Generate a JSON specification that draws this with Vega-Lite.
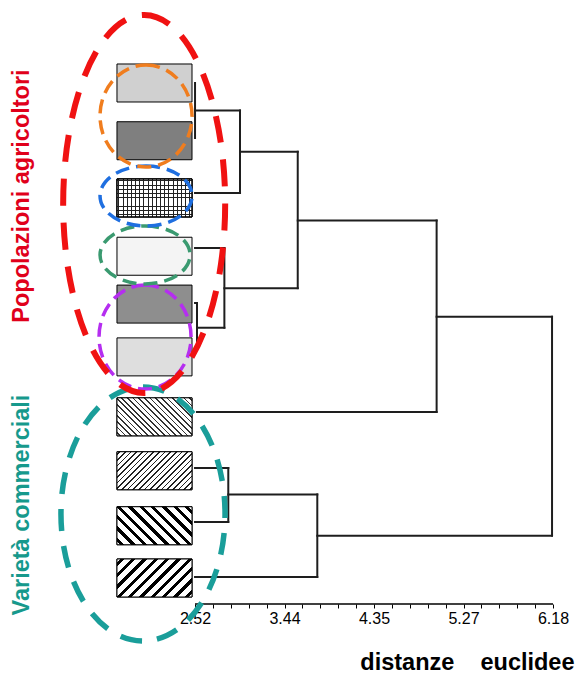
{
  "$schema": "https://vega.github.io/schema/vega-lite/v6.json",
  "width": 576,
  "height": 604,
  "autosize": {"type": "none"},
  "padding": {"left": 0, "top": 0, "right": 0, "bottom": 71},
  "background": "white",
  "config": {"view": {"stroke": null}, "axis": {"labelOverlap": false}},
  "datasets": {
    "leaves": [
      {"id": 1, "pos": 1.0},
      {"id": 2, "pos": 2.05},
      {"id": 3, "pos": 3.09},
      {"id": 4, "pos": 4.15},
      {"id": 5, "pos": 5.02},
      {"id": 6, "pos": 5.98},
      {"id": 7, "pos": 7.07},
      {"id": 8, "pos": 8.05},
      {"id": 9, "pos": 9.05},
      {"id": 10, "pos": 10.0}
    ],
    "segs": [
      {"d1": 2.52, "d2": 2.98, "p1": 3.0, "p2": 3.0},
      {"d1": 2.52, "d2": 2.98, "p1": 1.5, "p2": 1.5},
      {"d1": 2.52, "d2": 2.82, "p1": 4.0, "p2": 4.0},
      {"d1": 2.52, "d2": 2.54, "p1": 5.0, "p2": 5.0},
      {"d1": 2.52, "d2": 2.54, "p1": 5.82, "p2": 5.82},
      {"d1": 2.54, "d2": 2.82, "p1": 5.45, "p2": 5.45},
      {"d1": 2.98, "d2": 3.57, "p1": 2.25, "p2": 2.25},
      {"d1": 2.82, "d2": 3.57, "p1": 4.73, "p2": 4.73},
      {"d1": 3.57, "d2": 4.99, "p1": 3.5, "p2": 3.5},
      {"d1": 2.54, "d2": 4.99, "p1": 6.98, "p2": 6.98},
      {"d1": 4.99, "d2": 6.17, "p1": 5.25, "p2": 5.25},
      {"d1": 2.52, "d2": 2.86, "p1": 8.0, "p2": 8.0},
      {"d1": 2.52, "d2": 2.86, "p1": 8.98, "p2": 8.98},
      {"d1": 2.86, "d2": 3.77, "p1": 8.48, "p2": 8.48},
      {"d1": 2.52, "d2": 3.77, "p1": 9.98, "p2": 9.98},
      {"d1": 3.77, "d2": 6.17, "p1": 9.23, "p2": 9.23},
      {"d1": 2.52, "d2": 2.52, "p1": 1.0, "p2": 2.0},
      {"d1": 2.98, "d2": 2.98, "p1": 1.5, "p2": 3.0},
      {"d1": 2.54, "d2": 2.54, "p1": 5.0, "p2": 5.82},
      {"d1": 2.82, "d2": 2.82, "p1": 4.0, "p2": 5.45},
      {"d1": 3.57, "d2": 3.57, "p1": 2.25, "p2": 4.73},
      {"d1": 4.99, "d2": 4.99, "p1": 3.5, "p2": 6.98},
      {"d1": 2.86, "d2": 2.86, "p1": 8.0, "p2": 8.98},
      {"d1": 3.77, "d2": 3.77, "p1": 8.48, "p2": 9.98},
      {"d1": 6.17, "d2": 6.17, "p1": 5.25, "p2": 9.23}
    ]
  },
  "layer": [
    {
      "data": {"name": "leaves"},
      "mark": {"type": "rect", "height": 38, "stroke": "#000", "strokeWidth": 1},
      "encoding": {
        "x": {"datum": 1.722, "type": "quantitative", "scale": {"domain": [0.526, 6.415], "nice": false, "zero": false},
          "axis": {
            "values": [2.52, 2.703, 2.886, 3.069, 3.252, 3.435, 3.618, 3.801, 3.984, 4.167, 4.35, 4.533, 4.716, 4.899, 5.082, 5.265, 5.448, 5.631, 5.814, 5.997, 6.18],
            "tickCount": 100,
            "labelExpr": "abs(datum.value - 2.52) < 0.01 ? '2.52' : abs(datum.value - 3.435) < 0.01 ? '3.44' : abs(datum.value - 4.35) < 0.01 ? '4.35' : abs(datum.value - 5.265) < 0.01 ? '5.27' : abs(datum.value - 6.18) < 0.01 ? '6.18' : ''",
            "domain": false, "grid": false, "ticks": true, "tickSize": 4, "tickColor": "#000", "tickWidth": 1,
            "labelFont": "Liberation Sans", "labelFontSize": 16, "labelColor": "#000", "labelPadding": 2, "labelDx": 3,
            "labelFlush": false, "labelOverlap": false, "labelBound": false, "labelSeparation": 0,
            "title": "distanze\u00a0\u00a0\u00a0 euclidee", "titleFont": "Liberation Sans", "titleFontSize": 23.5, "titleFontWeight": "bold", "titleColor": "#000",
            "titleX": 574, "titleY": 65, "titleAlign": "right", "titleBaseline": "alphabetic"
          }},
        "x2": {"datum": 2.489},
        "y": {"field": "pos", "type": "quantitative", "scale": {"domain": [-0.509, 10.473], "nice": false, "zero": false, "reverse": true}, "axis": null},
        "fill": {"field": "id", "type": "nominal", "scale": {"domain": [1, 2, 3, 4, 5, 6, 7, 8, 9, 10], "range": ["#d0d0d0", "#7f7f7f", "#ffffff", "#f4f4f4", "#8e8e8e", "#dedede", "#ffffff", "#ffffff", "#ffffff", "#ffffff"]}, "legend": null}
      }
    },
    {
      "data": {"name": "leaves"},
      "transform": [{"filter": "datum.id == 3"}],
      "mark": {"type": "rect", "height": 38, "stroke": "#000", "strokeWidth": 1,
        "fill": {"gradient": "linear", "x1": 0, "y1": 0, "x2": 1, "y2": 0, "stops": [
          {"offset": 0, "color": "#fff"},
          {"offset": 0.02, "color": "#fff"}, {"offset": 0.02, "color": "#222"}, {"offset": 0.033, "color": "#222"}, {"offset": 0.033, "color": "#fff"},
          {"offset": 0.0756, "color": "#fff"}, {"offset": 0.0756, "color": "#222"}, {"offset": 0.0886, "color": "#222"}, {"offset": 0.0886, "color": "#fff"},
          {"offset": 0.1311, "color": "#fff"}, {"offset": 0.1311, "color": "#222"}, {"offset": 0.1441, "color": "#222"}, {"offset": 0.1441, "color": "#fff"},
          {"offset": 0.1867, "color": "#fff"}, {"offset": 0.1867, "color": "#222"}, {"offset": 0.1997, "color": "#222"}, {"offset": 0.1997, "color": "#fff"},
          {"offset": 0.2422, "color": "#fff"}, {"offset": 0.2422, "color": "#222"}, {"offset": 0.2552, "color": "#222"}, {"offset": 0.2552, "color": "#fff"},
          {"offset": 0.2978, "color": "#fff"}, {"offset": 0.2978, "color": "#222"}, {"offset": 0.3108, "color": "#222"}, {"offset": 0.3108, "color": "#fff"},
          {"offset": 0.3533, "color": "#fff"}, {"offset": 0.3533, "color": "#222"}, {"offset": 0.3663, "color": "#222"}, {"offset": 0.3663, "color": "#fff"},
          {"offset": 0.4089, "color": "#fff"}, {"offset": 0.4089, "color": "#222"}, {"offset": 0.4219, "color": "#222"}, {"offset": 0.4219, "color": "#fff"},
          {"offset": 0.4644, "color": "#fff"}, {"offset": 0.4644, "color": "#222"}, {"offset": 0.4774, "color": "#222"}, {"offset": 0.4774, "color": "#fff"},
          {"offset": 0.52, "color": "#fff"}, {"offset": 0.52, "color": "#222"}, {"offset": 0.533, "color": "#222"}, {"offset": 0.533, "color": "#fff"},
          {"offset": 0.5756, "color": "#fff"}, {"offset": 0.5756, "color": "#222"}, {"offset": 0.5886, "color": "#222"}, {"offset": 0.5886, "color": "#fff"},
          {"offset": 0.6311, "color": "#fff"}, {"offset": 0.6311, "color": "#222"}, {"offset": 0.6441, "color": "#222"}, {"offset": 0.6441, "color": "#fff"},
          {"offset": 0.6867, "color": "#fff"}, {"offset": 0.6867, "color": "#222"}, {"offset": 0.6997, "color": "#222"}, {"offset": 0.6997, "color": "#fff"},
          {"offset": 0.7422, "color": "#fff"}, {"offset": 0.7422, "color": "#222"}, {"offset": 0.7552, "color": "#222"}, {"offset": 0.7552, "color": "#fff"},
          {"offset": 0.7978, "color": "#fff"}, {"offset": 0.7978, "color": "#222"}, {"offset": 0.8108, "color": "#222"}, {"offset": 0.8108, "color": "#fff"},
          {"offset": 0.8533, "color": "#fff"}, {"offset": 0.8533, "color": "#222"}, {"offset": 0.8663, "color": "#222"}, {"offset": 0.8663, "color": "#fff"},
          {"offset": 0.9089, "color": "#fff"}, {"offset": 0.9089, "color": "#222"}, {"offset": 0.9219, "color": "#222"}, {"offset": 0.9219, "color": "#fff"},
          {"offset": 0.9644, "color": "#fff"}, {"offset": 0.9644, "color": "#222"}, {"offset": 0.9774, "color": "#222"}, {"offset": 0.9774, "color": "#fff"},
          {"offset": 1, "color": "#fff"}
        ]}},
      "encoding": {
        "x": {"datum": 1.722, "type": "quantitative", "scale": {"domain": [0.526, 6.415], "nice": false, "zero": false}},
        "x2": {"datum": 2.489},
        "y": {"field": "pos", "type": "quantitative", "scale": {"domain": [-0.509, 10.473], "nice": false, "zero": false, "reverse": true}, "axis": null}
      }
    },
    {
      "data": {"name": "leaves"},
      "transform": [{"filter": "datum.id == 3"}],
      "mark": {"type": "rect", "height": 38, "stroke": "#000", "strokeWidth": 1,
        "fill": {"gradient": "linear", "x1": 0, "y1": 0, "x2": 0, "y2": 1, "stops": [
          {"offset": 0, "color": "rgba(0,0,0,0)"},
          {"offset": 0.04, "color": "rgba(0,0,0,0)"}, {"offset": 0.04, "color": "#222"}, {"offset": 0.064, "color": "#222"}, {"offset": 0.064, "color": "rgba(0,0,0,0)"},
          {"offset": 0.1511, "color": "rgba(0,0,0,0)"}, {"offset": 0.1511, "color": "#222"}, {"offset": 0.1751, "color": "#222"}, {"offset": 0.1751, "color": "rgba(0,0,0,0)"},
          {"offset": 0.2622, "color": "rgba(0,0,0,0)"}, {"offset": 0.2622, "color": "#222"}, {"offset": 0.2862, "color": "#222"}, {"offset": 0.2862, "color": "rgba(0,0,0,0)"},
          {"offset": 0.3733, "color": "rgba(0,0,0,0)"}, {"offset": 0.3733, "color": "#222"}, {"offset": 0.3973, "color": "#222"}, {"offset": 0.3973, "color": "rgba(0,0,0,0)"},
          {"offset": 0.4844, "color": "rgba(0,0,0,0)"}, {"offset": 0.4844, "color": "#222"}, {"offset": 0.5084, "color": "#222"}, {"offset": 0.5084, "color": "rgba(0,0,0,0)"},
          {"offset": 0.5956, "color": "rgba(0,0,0,0)"}, {"offset": 0.5956, "color": "#222"}, {"offset": 0.6196, "color": "#222"}, {"offset": 0.6196, "color": "rgba(0,0,0,0)"},
          {"offset": 0.7067, "color": "rgba(0,0,0,0)"}, {"offset": 0.7067, "color": "#222"}, {"offset": 0.7307, "color": "#222"}, {"offset": 0.7307, "color": "rgba(0,0,0,0)"},
          {"offset": 0.8178, "color": "rgba(0,0,0,0)"}, {"offset": 0.8178, "color": "#222"}, {"offset": 0.8418, "color": "#222"}, {"offset": 0.8418, "color": "rgba(0,0,0,0)"},
          {"offset": 0.9289, "color": "rgba(0,0,0,0)"}, {"offset": 0.9289, "color": "#222"}, {"offset": 0.9529, "color": "#222"}, {"offset": 0.9529, "color": "rgba(0,0,0,0)"},
          {"offset": 1, "color": "rgba(0,0,0,0)"}
        ]}},
      "encoding": {
        "x": {"datum": 1.722, "type": "quantitative", "scale": {"domain": [0.526, 6.415], "nice": false, "zero": false}},
        "x2": {"datum": 2.489},
        "y": {"field": "pos", "type": "quantitative", "scale": {"domain": [-0.509, 10.473], "nice": false, "zero": false, "reverse": true}, "axis": null}
      }
    },
    {
      "data": {"name": "leaves"},
      "transform": [{"filter": "datum.id == 7"}],
      "mark": {"type": "rect", "height": 38, "stroke": "#000", "strokeWidth": 1,
        "fill": {"gradient": "linear", "x1": 0, "y1": 1, "x2": 1.199, "y2": 0.3925, "stops": [
          {"offset": 0, "color": "#fff"},
          {"offset": 0.02, "color": "#fff"}, {"offset": 0.02, "color": "#333"}, {"offset": 0.035, "color": "#333"}, {"offset": 0.035, "color": "#fff"},
          {"offset": 0.07, "color": "#fff"}, {"offset": 0.07, "color": "#333"}, {"offset": 0.085, "color": "#333"}, {"offset": 0.085, "color": "#fff"},
          {"offset": 0.12, "color": "#fff"}, {"offset": 0.12, "color": "#333"}, {"offset": 0.135, "color": "#333"}, {"offset": 0.135, "color": "#fff"},
          {"offset": 0.17, "color": "#fff"}, {"offset": 0.17, "color": "#333"}, {"offset": 0.185, "color": "#333"}, {"offset": 0.185, "color": "#fff"},
          {"offset": 0.22, "color": "#fff"}, {"offset": 0.22, "color": "#333"}, {"offset": 0.235, "color": "#333"}, {"offset": 0.235, "color": "#fff"},
          {"offset": 0.27, "color": "#fff"}, {"offset": 0.27, "color": "#333"}, {"offset": 0.285, "color": "#333"}, {"offset": 0.285, "color": "#fff"},
          {"offset": 0.32, "color": "#fff"}, {"offset": 0.32, "color": "#333"}, {"offset": 0.335, "color": "#333"}, {"offset": 0.335, "color": "#fff"},
          {"offset": 0.37, "color": "#fff"}, {"offset": 0.37, "color": "#333"}, {"offset": 0.385, "color": "#333"}, {"offset": 0.385, "color": "#fff"},
          {"offset": 0.42, "color": "#fff"}, {"offset": 0.42, "color": "#333"}, {"offset": 0.435, "color": "#333"}, {"offset": 0.435, "color": "#fff"},
          {"offset": 0.47, "color": "#fff"}, {"offset": 0.47, "color": "#333"}, {"offset": 0.485, "color": "#333"}, {"offset": 0.485, "color": "#fff"},
          {"offset": 0.52, "color": "#fff"}, {"offset": 0.52, "color": "#333"}, {"offset": 0.535, "color": "#333"}, {"offset": 0.535, "color": "#fff"},
          {"offset": 0.57, "color": "#fff"}, {"offset": 0.57, "color": "#333"}, {"offset": 0.585, "color": "#333"}, {"offset": 0.585, "color": "#fff"},
          {"offset": 0.62, "color": "#fff"}, {"offset": 0.62, "color": "#333"}, {"offset": 0.635, "color": "#333"}, {"offset": 0.635, "color": "#fff"},
          {"offset": 0.67, "color": "#fff"}, {"offset": 0.67, "color": "#333"}, {"offset": 0.685, "color": "#333"}, {"offset": 0.685, "color": "#fff"},
          {"offset": 0.72, "color": "#fff"}, {"offset": 0.72, "color": "#333"}, {"offset": 0.735, "color": "#333"}, {"offset": 0.735, "color": "#fff"},
          {"offset": 0.77, "color": "#fff"}, {"offset": 0.77, "color": "#333"}, {"offset": 0.785, "color": "#333"}, {"offset": 0.785, "color": "#fff"},
          {"offset": 0.82, "color": "#fff"}, {"offset": 0.82, "color": "#333"}, {"offset": 0.835, "color": "#333"}, {"offset": 0.835, "color": "#fff"},
          {"offset": 0.87, "color": "#fff"}, {"offset": 0.87, "color": "#333"}, {"offset": 0.885, "color": "#333"}, {"offset": 0.885, "color": "#fff"},
          {"offset": 0.92, "color": "#fff"}, {"offset": 0.92, "color": "#333"}, {"offset": 0.935, "color": "#333"}, {"offset": 0.935, "color": "#fff"},
          {"offset": 0.97, "color": "#fff"}, {"offset": 0.97, "color": "#333"}, {"offset": 0.985, "color": "#333"}, {"offset": 0.985, "color": "#fff"},
          {"offset": 1, "color": "#fff"}
        ]}},
      "encoding": {
        "x": {"datum": 1.722, "type": "quantitative", "scale": {"domain": [0.526, 6.415], "nice": false, "zero": false}},
        "x2": {"datum": 2.489},
        "y": {"field": "pos", "type": "quantitative", "scale": {"domain": [-0.509, 10.473], "nice": false, "zero": false, "reverse": true}, "axis": null}
      }
    },
    {
      "data": {"name": "leaves"},
      "transform": [{"filter": "datum.id == 8"}],
      "mark": {"type": "rect", "height": 38, "stroke": "#000", "strokeWidth": 1,
        "fill": {"gradient": "linear", "x1": 0, "y1": 0, "x2": 1.199, "y2": 0.6075, "stops": [
          {"offset": 0, "color": "#fff"},
          {"offset": 0.02, "color": "#fff"}, {"offset": 0.02, "color": "#222"}, {"offset": 0.035, "color": "#222"}, {"offset": 0.035, "color": "#fff"},
          {"offset": 0.07, "color": "#fff"}, {"offset": 0.07, "color": "#222"}, {"offset": 0.085, "color": "#222"}, {"offset": 0.085, "color": "#fff"},
          {"offset": 0.12, "color": "#fff"}, {"offset": 0.12, "color": "#222"}, {"offset": 0.135, "color": "#222"}, {"offset": 0.135, "color": "#fff"},
          {"offset": 0.17, "color": "#fff"}, {"offset": 0.17, "color": "#222"}, {"offset": 0.185, "color": "#222"}, {"offset": 0.185, "color": "#fff"},
          {"offset": 0.22, "color": "#fff"}, {"offset": 0.22, "color": "#222"}, {"offset": 0.235, "color": "#222"}, {"offset": 0.235, "color": "#fff"},
          {"offset": 0.27, "color": "#fff"}, {"offset": 0.27, "color": "#222"}, {"offset": 0.285, "color": "#222"}, {"offset": 0.285, "color": "#fff"},
          {"offset": 0.32, "color": "#fff"}, {"offset": 0.32, "color": "#222"}, {"offset": 0.335, "color": "#222"}, {"offset": 0.335, "color": "#fff"},
          {"offset": 0.37, "color": "#fff"}, {"offset": 0.37, "color": "#222"}, {"offset": 0.385, "color": "#222"}, {"offset": 0.385, "color": "#fff"},
          {"offset": 0.42, "color": "#fff"}, {"offset": 0.42, "color": "#222"}, {"offset": 0.435, "color": "#222"}, {"offset": 0.435, "color": "#fff"},
          {"offset": 0.47, "color": "#fff"}, {"offset": 0.47, "color": "#222"}, {"offset": 0.485, "color": "#222"}, {"offset": 0.485, "color": "#fff"},
          {"offset": 0.52, "color": "#fff"}, {"offset": 0.52, "color": "#222"}, {"offset": 0.535, "color": "#222"}, {"offset": 0.535, "color": "#fff"},
          {"offset": 0.57, "color": "#fff"}, {"offset": 0.57, "color": "#222"}, {"offset": 0.585, "color": "#222"}, {"offset": 0.585, "color": "#fff"},
          {"offset": 0.62, "color": "#fff"}, {"offset": 0.62, "color": "#222"}, {"offset": 0.635, "color": "#222"}, {"offset": 0.635, "color": "#fff"},
          {"offset": 0.67, "color": "#fff"}, {"offset": 0.67, "color": "#222"}, {"offset": 0.685, "color": "#222"}, {"offset": 0.685, "color": "#fff"},
          {"offset": 0.72, "color": "#fff"}, {"offset": 0.72, "color": "#222"}, {"offset": 0.735, "color": "#222"}, {"offset": 0.735, "color": "#fff"},
          {"offset": 0.77, "color": "#fff"}, {"offset": 0.77, "color": "#222"}, {"offset": 0.785, "color": "#222"}, {"offset": 0.785, "color": "#fff"},
          {"offset": 0.82, "color": "#fff"}, {"offset": 0.82, "color": "#222"}, {"offset": 0.835, "color": "#222"}, {"offset": 0.835, "color": "#fff"},
          {"offset": 0.87, "color": "#fff"}, {"offset": 0.87, "color": "#222"}, {"offset": 0.885, "color": "#222"}, {"offset": 0.885, "color": "#fff"},
          {"offset": 0.92, "color": "#fff"}, {"offset": 0.92, "color": "#222"}, {"offset": 0.935, "color": "#222"}, {"offset": 0.935, "color": "#fff"},
          {"offset": 0.97, "color": "#fff"}, {"offset": 0.97, "color": "#222"}, {"offset": 0.985, "color": "#222"}, {"offset": 0.985, "color": "#fff"},
          {"offset": 1, "color": "#fff"}
        ]}},
      "encoding": {
        "x": {"datum": 1.722, "type": "quantitative", "scale": {"domain": [0.526, 6.415], "nice": false, "zero": false}},
        "x2": {"datum": 2.489},
        "y": {"field": "pos", "type": "quantitative", "scale": {"domain": [-0.509, 10.473], "nice": false, "zero": false, "reverse": true}, "axis": null}
      }
    },
    {
      "data": {"name": "leaves"},
      "transform": [{"filter": "datum.id == 9"}],
      "mark": {"type": "rect", "height": 38, "stroke": "#000", "strokeWidth": 1,
        "fill": {"gradient": "linear", "x1": 0, "y1": 1, "x2": 1.199, "y2": 0.3925, "stops": [
          {"offset": 0, "color": "#fff"},
          {"offset": 0.03, "color": "#fff"}, {"offset": 0.03, "color": "#000"}, {"offset": 0.068, "color": "#000"}, {"offset": 0.068, "color": "#fff"},
          {"offset": 0.13, "color": "#fff"}, {"offset": 0.13, "color": "#000"}, {"offset": 0.168, "color": "#000"}, {"offset": 0.168, "color": "#fff"},
          {"offset": 0.23, "color": "#fff"}, {"offset": 0.23, "color": "#000"}, {"offset": 0.268, "color": "#000"}, {"offset": 0.268, "color": "#fff"},
          {"offset": 0.33, "color": "#fff"}, {"offset": 0.33, "color": "#000"}, {"offset": 0.368, "color": "#000"}, {"offset": 0.368, "color": "#fff"},
          {"offset": 0.43, "color": "#fff"}, {"offset": 0.43, "color": "#000"}, {"offset": 0.468, "color": "#000"}, {"offset": 0.468, "color": "#fff"},
          {"offset": 0.53, "color": "#fff"}, {"offset": 0.53, "color": "#000"}, {"offset": 0.568, "color": "#000"}, {"offset": 0.568, "color": "#fff"},
          {"offset": 0.63, "color": "#fff"}, {"offset": 0.63, "color": "#000"}, {"offset": 0.668, "color": "#000"}, {"offset": 0.668, "color": "#fff"},
          {"offset": 0.73, "color": "#fff"}, {"offset": 0.73, "color": "#000"}, {"offset": 0.768, "color": "#000"}, {"offset": 0.768, "color": "#fff"},
          {"offset": 0.83, "color": "#fff"}, {"offset": 0.83, "color": "#000"}, {"offset": 0.868, "color": "#000"}, {"offset": 0.868, "color": "#fff"},
          {"offset": 0.93, "color": "#fff"}, {"offset": 0.93, "color": "#000"}, {"offset": 0.968, "color": "#000"}, {"offset": 0.968, "color": "#fff"},
          {"offset": 1, "color": "#fff"}
        ]}},
      "encoding": {
        "x": {"datum": 1.722, "type": "quantitative", "scale": {"domain": [0.526, 6.415], "nice": false, "zero": false}},
        "x2": {"datum": 2.489},
        "y": {"field": "pos", "type": "quantitative", "scale": {"domain": [-0.509, 10.473], "nice": false, "zero": false, "reverse": true}, "axis": null}
      }
    },
    {
      "data": {"name": "leaves"},
      "transform": [{"filter": "datum.id == 10"}],
      "mark": {"type": "rect", "height": 38, "stroke": "#000", "strokeWidth": 1,
        "fill": {"gradient": "linear", "x1": 0, "y1": 0, "x2": 1.199, "y2": 0.6075, "stops": [
          {"offset": 0, "color": "#fff"},
          {"offset": 0.03, "color": "#fff"}, {"offset": 0.03, "color": "#000"}, {"offset": 0.068, "color": "#000"}, {"offset": 0.068, "color": "#fff"},
          {"offset": 0.13, "color": "#fff"}, {"offset": 0.13, "color": "#000"}, {"offset": 0.168, "color": "#000"}, {"offset": 0.168, "color": "#fff"},
          {"offset": 0.23, "color": "#fff"}, {"offset": 0.23, "color": "#000"}, {"offset": 0.268, "color": "#000"}, {"offset": 0.268, "color": "#fff"},
          {"offset": 0.33, "color": "#fff"}, {"offset": 0.33, "color": "#000"}, {"offset": 0.368, "color": "#000"}, {"offset": 0.368, "color": "#fff"},
          {"offset": 0.43, "color": "#fff"}, {"offset": 0.43, "color": "#000"}, {"offset": 0.468, "color": "#000"}, {"offset": 0.468, "color": "#fff"},
          {"offset": 0.53, "color": "#fff"}, {"offset": 0.53, "color": "#000"}, {"offset": 0.568, "color": "#000"}, {"offset": 0.568, "color": "#fff"},
          {"offset": 0.63, "color": "#fff"}, {"offset": 0.63, "color": "#000"}, {"offset": 0.668, "color": "#000"}, {"offset": 0.668, "color": "#fff"},
          {"offset": 0.73, "color": "#fff"}, {"offset": 0.73, "color": "#000"}, {"offset": 0.768, "color": "#000"}, {"offset": 0.768, "color": "#fff"},
          {"offset": 0.83, "color": "#fff"}, {"offset": 0.83, "color": "#000"}, {"offset": 0.868, "color": "#000"}, {"offset": 0.868, "color": "#fff"},
          {"offset": 0.93, "color": "#fff"}, {"offset": 0.93, "color": "#000"}, {"offset": 0.968, "color": "#000"}, {"offset": 0.968, "color": "#fff"},
          {"offset": 1, "color": "#fff"}
        ]}},
      "encoding": {
        "x": {"datum": 1.722, "type": "quantitative", "scale": {"domain": [0.526, 6.415], "nice": false, "zero": false}},
        "x2": {"datum": 2.489},
        "y": {"field": "pos", "type": "quantitative", "scale": {"domain": [-0.509, 10.473], "nice": false, "zero": false, "reverse": true}, "axis": null}
      }
    },
    {
      "data": {"name": "segs"},
      "mark": {"type": "rule", "stroke": "#1e1e1e", "strokeWidth": 2, "strokeCap": "square"},
      "encoding": {
        "x": {"field": "d1", "type": "quantitative", "scale": {"domain": [0.526, 6.415], "nice": false, "zero": false}},
        "x2": {"field": "d2"},
        "y": {"field": "p1", "type": "quantitative", "scale": {"domain": [-0.509, 10.473], "nice": false, "zero": false, "reverse": true}, "axis": null},
        "y2": {"field": "p2"}
      }
    },
    {
      "data": {"values": [{}]},
      "mark": {"type": "rule", "stroke": "#000", "strokeWidth": 1.3},
      "encoding": {
        "x": {"datum": 2.52, "type": "quantitative", "scale": {"domain": [0.526, 6.415], "nice": false, "zero": false}},
        "x2": {"datum": 6.18},
        "y": {"value": "height"}
      }
    },
    {
      "data": {"values": [{}]},
      "mark": {"type": "point", "shape": "M0,-1 C0.3568,-1 0.646,-0.5523 0.646,0 C0.646,0.5523 0.3568,1 0,1 C-0.3568,1 -0.646,0.5523 -0.646,0 C-0.646,-0.5523 -0.3568,-1 0,-1 Z",
        "size": 64516, "filled": false, "color": "#1a9e9a", "stroke": "#1a9e9a", "strokeWidth": 5.5, "strokeDash": [22, 15], "opacity": 1},
      "encoding": {
        "x": {"datum": 1.988, "type": "quantitative", "scale": {"domain": [0.526, 6.415], "nice": false, "zero": false}},
        "y": {"datum": 8.836, "type": "quantitative", "scale": {"domain": [-0.509, 10.473], "nice": false, "zero": false, "reverse": true}, "axis": null}
      }
    },
    {
      "data": {"values": [{}]},
      "mark": {"type": "point", "shape": "M0,-1 C0.4888,-1 0.885,-0.5523 0.885,0 C0.885,0.5523 0.4888,1 0,1 C-0.4888,1 -0.885,0.5523 -0.885,0 C-0.885,-0.5523 -0.4888,-1 0,-1 Z",
        "size": 10816, "filled": false, "color": "#b52ef0", "stroke": "#b52ef0", "strokeWidth": 3.5, "strokeDash": [14, 7], "opacity": 1},
      "encoding": {
        "x": {"datum": 2.009, "type": "quantitative", "scale": {"domain": [0.526, 6.415], "nice": false, "zero": false}},
        "y": {"datum": 5.618, "type": "quantitative", "scale": {"domain": [-0.509, 10.473], "nice": false, "zero": false, "reverse": true}, "axis": null}
      }
    },
    {
      "data": {"values": [{}]},
      "mark": {"type": "point", "shape": "M0,-0.644 C0.5523,-0.644 1,-0.3557 1,0 C1,0.3557 0.5523,0.644 0,0.644 C-0.5523,0.644 -1,0.3557 -1,0 C-1,-0.3557 -0.5523,-0.644 0,-0.644 Z",
        "size": 8100, "filled": false, "color": "#3a9a70", "stroke": "#3a9a70", "strokeWidth": 3.5, "strokeDash": [14, 7], "opacity": 1},
      "encoding": {
        "x": {"datum": 2.009, "type": "quantitative", "scale": {"domain": [0.526, 6.415], "nice": false, "zero": false}},
        "y": {"datum": 4.127, "type": "quantitative", "scale": {"domain": [-0.509, 10.473], "nice": false, "zero": false, "reverse": true}, "axis": null}
      }
    },
    {
      "data": {"values": [{}]},
      "mark": {"type": "point", "shape": "M0,-0.652 C0.5523,-0.652 1,-0.3601 1,0 C1,0.3601 0.5523,0.652 0,0.652 C-0.5523,0.652 -1,0.3601 -1,0 C-1,-0.3601 -0.5523,-0.652 0,-0.652 Z",
        "size": 8464, "filled": false, "color": "#1f6fe0", "stroke": "#1f6fe0", "strokeWidth": 3.5, "strokeDash": [14, 7], "opacity": 1},
      "encoding": {
        "x": {"datum": 2.019, "type": "quantitative", "scale": {"domain": [0.526, 6.415], "nice": false, "zero": false}},
        "y": {"datum": 3.055, "type": "quantitative", "scale": {"domain": [-0.509, 10.473], "nice": false, "zero": false, "reverse": true}, "axis": null}
      }
    },
    {
      "data": {"values": [{}]},
      "mark": {"type": "point", "shape": "M0,-1 C0.4982,-1 0.902,-0.5523 0.902,0 C0.902,0.5523 0.4982,1 0,1 C-0.4982,1 -0.902,0.5523 -0.902,0 C-0.902,-0.5523 -0.4982,-1 0,-1 Z",
        "size": 10404, "filled": false, "color": "#f07d1e", "stroke": "#f07d1e", "strokeWidth": 3.5, "strokeDash": [14, 7], "opacity": 1},
      "encoding": {
        "x": {"datum": 2.019, "type": "quantitative", "scale": {"domain": [0.526, 6.415], "nice": false, "zero": false}},
        "y": {"datum": 1.6, "type": "quantitative", "scale": {"domain": [-0.509, 10.473], "nice": false, "zero": false, "reverse": true}, "axis": null}
      }
    },
    {
      "data": {"values": [{}]},
      "mark": {"type": "point", "shape": "M0,-1 C0.2367,-1 0.4286,-0.5523 0.4286,0 C0.4286,0.5523 0.2367,1 0,1 C-0.2367,1 -0.4286,0.5523 -0.4286,0 C-0.4286,-0.5523 -0.2367,-1 0,-1 Z",
        "size": 142884, "filled": false, "color": "#f01212", "stroke": "#f01212", "strokeWidth": 6, "strokeDash": [27, 17], "opacity": 1},
      "encoding": {
        "x": {"datum": 2.0, "type": "quantitative", "scale": {"domain": [0.526, 6.415], "nice": false, "zero": false}},
        "y": {"datum": 3.2, "type": "quantitative", "scale": {"domain": [-0.509, 10.473], "nice": false, "zero": false, "reverse": true}, "axis": null}
      }
    },
    {
      "data": {"values": [{"t": "Popolazioni agricoltori"}]},
      "mark": {"type": "text", "angle": 270, "font": "Liberation Sans", "fontSize": 23.5, "fontWeight": "bold", "color": "#e0001b", "align": "center", "baseline": "middle"},
      "encoding": {
        "text": {"field": "t"},
        "x": {"datum": 0.751, "type": "quantitative", "scale": {"domain": [0.526, 6.415], "nice": false, "zero": false}},
        "y": {"datum": 3.055, "type": "quantitative", "scale": {"domain": [-0.509, 10.473], "nice": false, "zero": false, "reverse": true}, "axis": null}
      }
    },
    {
      "data": {"values": [{"t": "Varietà commerciali"}]},
      "mark": {"type": "text", "angle": 270, "font": "Liberation Sans", "fontSize": 23.5, "fontWeight": "bold", "color": "#16998c", "align": "center", "baseline": "middle"},
      "encoding": {
        "text": {"field": "t"},
        "x": {"datum": 0.751, "type": "quantitative", "scale": {"domain": [0.526, 6.415], "nice": false, "zero": false}},
        "y": {"datum": 8.673, "type": "quantitative", "scale": {"domain": [-0.509, 10.473], "nice": false, "zero": false, "reverse": true}, "axis": null}
      }
    }
  ]
}
